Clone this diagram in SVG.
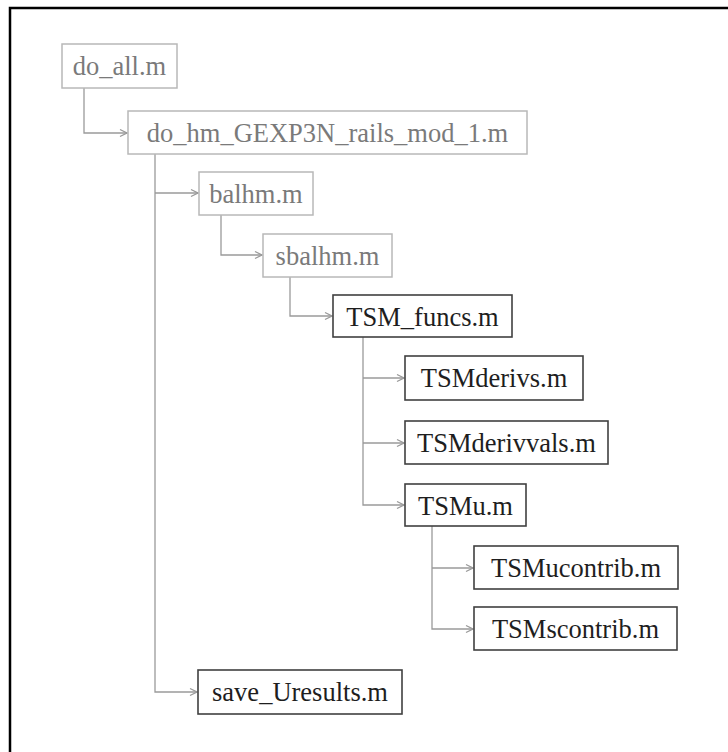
<svg xmlns="http://www.w3.org/2000/svg" width="728" height="752" viewBox="0 0 728 752">
<defs>
<marker id="arr" markerWidth="10" markerHeight="10" refX="9" refY="5" orient="auto" markerUnits="userSpaceOnUse">
<path d="M2,1.5 L9,5 L2,8.5" fill="none" stroke="#999" stroke-width="1.3"/>
</marker>
</defs>
<style>
.lt rect{fill:#fff;stroke:#b8b8b8;stroke-width:1.5}
.lt text{fill:#7a7a7a}
.dk rect{fill:#fff;stroke:#404040;stroke-width:1.6}
.dk text{fill:#1e1e1e}
text{font-size:26.5px;text-anchor:middle}
#connectors path{fill:none;stroke:#9a9a9a;stroke-width:1.3}
</style>
<rect x="0" y="0" width="728" height="752" fill="#fff"/>
<rect x="10" y="8" width="740" height="770" fill="none" stroke="#000" stroke-width="2.5"/>
<g id="connectors">
<path d="M84,88 V133 H127" marker-end="url(#arr)"/>
<path d="M155,154 V692 H197" marker-end="url(#arr)"/>
<path d="M155,193 H198" marker-end="url(#arr)"/>
<path d="M221,215 V255 H262" marker-end="url(#arr)"/>
<path d="M290,277 V316 H332" marker-end="url(#arr)"/>
<path d="M363,337 V505 H404" marker-end="url(#arr)"/>
<path d="M363,378 H404" marker-end="url(#arr)"/>
<path d="M363,443 H404" marker-end="url(#arr)"/>
<path d="M432,526 V629 H473" marker-end="url(#arr)"/>
<path d="M432,568 H473" marker-end="url(#arr)"/>
</g>
<g font-family="'Liberation Serif', 'DejaVu Serif', serif">
<g id="do_all" class="lt"><rect x="62" y="44" width="115" height="44"/><text x="119.5" y="75">do_all.m</text></g>
<g id="do_hm" class="lt"><rect x="128" y="111" width="399" height="43"/><text x="327.5" y="142">do_hm_GEXP3N_rails_mod_1.m</text></g>
<g id="balhm" class="lt"><rect x="199" y="172" width="114" height="43"/><text x="256" y="203">balhm.m</text></g>
<g id="sbalhm" class="lt"><rect x="263" y="234" width="129" height="43"/><text x="327.5" y="265">sbalhm.m</text></g>
<g id="TSM_funcs" class="dk"><rect x="333" y="295" width="179" height="42"/><text x="422.5" y="326">TSM_funcs.m</text></g>
<g id="TSMderivs" class="dk"><rect x="405" y="356" width="178" height="44"/><text x="494" y="387">TSMderivs.m</text></g>
<g id="TSMderivvals" class="dk"><rect x="405" y="421" width="203" height="43"/><text x="506.5" y="452">TSMderivvals.m</text></g>
<g id="TSMu" class="dk"><rect x="405" y="484" width="121" height="42"/><text x="465.5" y="515">TSMu.m</text></g>
<g id="TSMucontrib" class="dk"><rect x="474" y="546" width="204" height="43"/><text x="576" y="577">TSMucontrib.m</text></g>
<g id="TSMscontrib" class="dk"><rect x="474" y="607" width="203" height="43"/><text x="575.5" y="638">TSMscontrib.m</text></g>
<g id="save_Uresults" class="dk"><rect x="198" y="670" width="204" height="44"/><text x="300" y="701">save_Uresults.m</text></g>
</g>
</svg>
